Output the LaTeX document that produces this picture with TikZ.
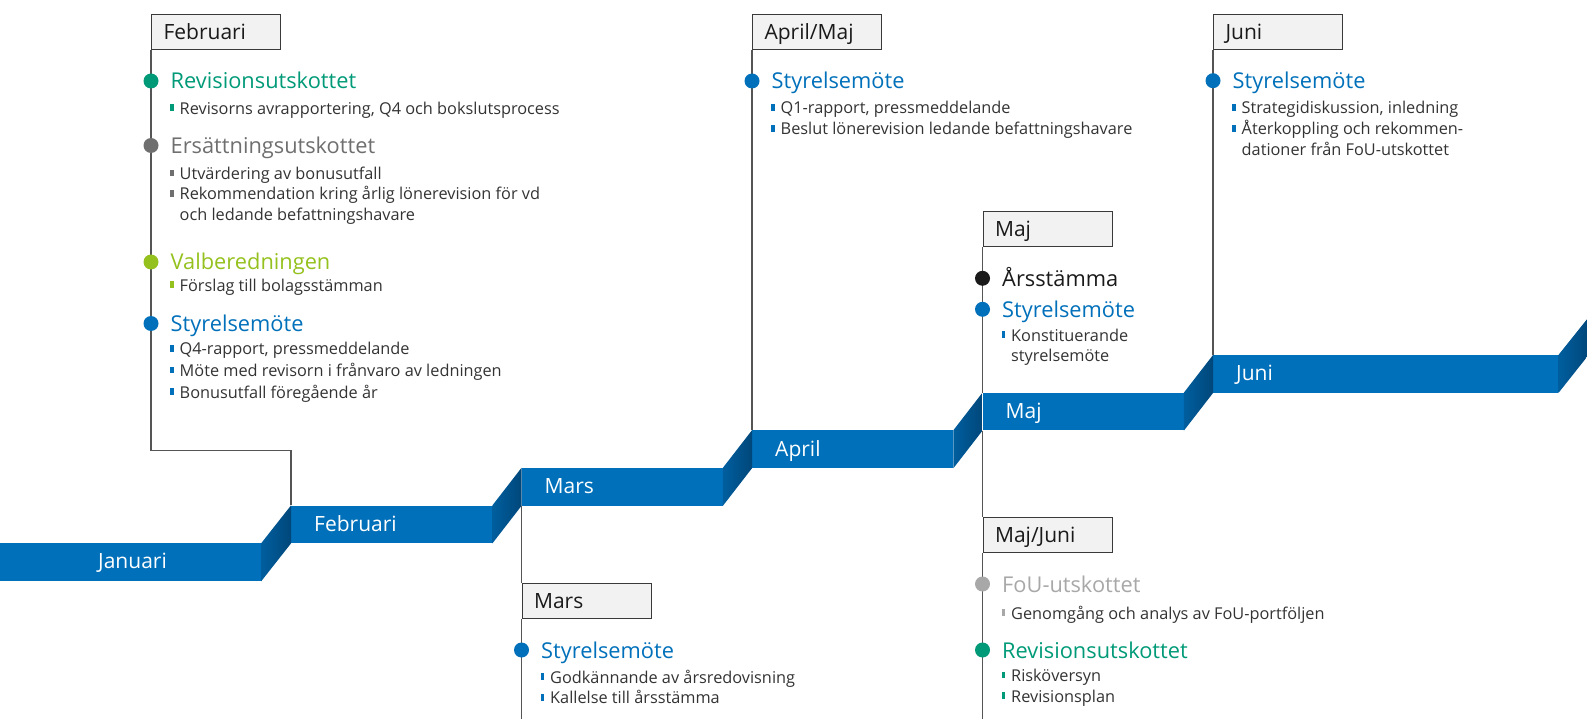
\documentclass[tikz,border=0pt]{standalone}
\usepackage{fontspec}
\setmainfont{Open Sans}
\definecolor{barblue}{HTML}{0070BA}
\definecolor{wedgeL}{HTML}{005E9E}
\definecolor{wedgeR}{HTML}{00477A}
\definecolor{revgreen}{HTML}{009A78}
\definecolor{ersgray}{HTML}{6F6F6F}
\definecolor{valgreen}{HTML}{95C11F}
\definecolor{fougray}{HTML}{A8A8A8}
\definecolor{bodytxt}{HTML}{333333}
\definecolor{linegray}{HTML}{555555}
\definecolor{boxfill}{HTML}{F2F2F2}
\definecolor{boxdraw}{HTML}{3A3A3A}
\definecolor{blacktxt}{HTML}{1A1A1A}
\newcommand\headfont{\fontsize{21.8}{26}\selectfont}
\newcommand\bodyfont{\fontsize{16.3}{20}\selectfont}
\newcommand\boxfont{\fontsize{21}{25}\selectfont}
\newcommand\barfont{\fontsize{21}{25}\selectfont}
\tikzset{
  conn/.style={draw=linegray, line width=1.1pt},
  mbox/.style={draw=boxdraw, fill=boxfill, line width=1.1pt, anchor=north west,
    minimum width=129pt, minimum height=35pt, text width=105pt, inner xsep=12pt,
    inner ysep=0pt, align=left, font=\boxfont, text=blacktxt, text height=15pt, text depth=0pt},
  bar/.style={fill=barblue, anchor=north west, minimum height=37.6pt, inner sep=0pt},
  barlabel/.style={anchor=base west, text=white, font=\barfont, inner sep=0pt},
  dot/.style={circle, minimum size=15pt, inner sep=0pt},
  head/.style={anchor=base west, inner sep=0pt, font=\headfont},
  body/.style={anchor=base west, inner sep=0pt, font=\bodyfont, text=bodytxt},
  wedge/.style={left color=wedgeL, right color=wedgeR},
}
% name, line x, y centre, colour, text
\newcommand\myhead[5]{%
  \node[dot, fill=#4] (#1dot) at (#2,#3) {};
  \node[head, text=#4] (#1) at (#2+19.5,#3+8) {#5};}
\newcommand\mybul[5]{%
  \fill[#4] (#2+19.3,#3-3.4) rectangle (#2+22.6,#3+3.4);
  \node[body] (#1) at (#2+28.5,#3+6.3) {#5};}
\newcommand\mycont[4]{%
  \node[body] (#1) at (#2+28.5,#3+6.3) {#4};}
\begin{document}
\begin{tikzpicture}[x=1pt, y=-1pt]
\useasboundingbox (0,0) rectangle (1587,719);
\clip (0,0) rectangle (1587,719);
% bars
\node[bar, minimum width=261pt] (barJan) at (0,543) {};
\node[bar, minimum width=201pt] (barFeb) at (291,505.4) {};
\node[bar, minimum width=201pt] (barMar) at (521.5,467.8) {};
\node[bar, minimum width=201pt] (barApr) at (752,430.2) {};
\node[bar, minimum width=201pt] (barMaj) at (982.5,392.6) {};
\node[bar, minimum width=345pt] (barJun) at (1213,355) {};
\coordinate (nextTop) at (1588.5,317.4);
\coordinate (nextBot) at (1588.5,355);
% wedges
\shade[wedge] (barJan.north east) -- (barFeb.north west) -- (barFeb.south west) -- (barJan.south east) -- cycle;
\shade[wedge] (barFeb.north east) -- (barMar.north west) -- (barMar.south west) -- (barFeb.south east) -- cycle;
\shade[wedge] (barMar.north east) -- (barApr.north west) -- (barApr.south west) -- (barMar.south east) -- cycle;
\shade[wedge] (barApr.north east) -- (barMaj.north west) -- (barMaj.south west) -- (barApr.south east) -- cycle;
\shade[wedge] (barMaj.north east) -- (barJun.north west) -- (barJun.south west) -- (barMaj.south east) -- cycle;
\shade[wedge] (barJun.north east) -- (nextTop) -- (nextBot) -- (barJun.south east) -- cycle;
% bar labels
\node[barlabel] (lJan) at (98,568.8) {Januari};
\node[barlabel] (lFeb) at (314,531.2) {Februari};
\node[barlabel] (lMar) at (544.5,493.6) {Mars};
\node[barlabel] (lApr) at (775,456) {April};
\node[barlabel] (lMaj) at (1005.5,418.4) {Maj};
\node[barlabel] (lJun) at (1236,380.8) {Juni};
% boxes
\node[mbox] (bFeb) at (151,14) {Februari};
\node[mbox] (bApr) at (752,14) {April/Maj};
\node[mbox] (bJun) at (1213,14) {Juni};
\node[mbox] (bMaj) at (982.5,211) {Maj};
\node[mbox] (bMajJ) at (982.5,517) {Maj/Juni};
\node[mbox] (bMar) at (521.5,583) {Mars};
% connectors
\coordinate (febTurn) at (151,450.7);
\coordinate (majEnd) at (982.5,720);
\coordinate (marEnd) at (521.5,720);
\draw[conn] (bFeb.south west) -- (febTurn) -| (barFeb.north west);
\draw[conn] (bApr.south west) -- (barApr.north west);
\draw[conn] (bJun.south west) -- (barJun.north west);
\draw[conn] (bMaj.south west) -- (barMaj.north west);
\draw[conn] (barMaj.south west) -- (bMajJ.north west);
\draw[conn] (bMajJ.south west) -- (majEnd);
\draw[conn] (barMar.south west) -- (bMar.north west);
\draw[conn] (bMar.south west) -- (marEnd);
% Februari column
\myhead{fRev}{151}{81}{revgreen}{Revisionsutskottet}
\mybul{fRev1}{151}{107.8}{revgreen}{Revisorns avrapportering, Q4 och bokslutsprocess}
\myhead{fErs}{151}{145.5}{ersgray}{Ersättningsutskottet}
\mybul{fErs1}{151}{173}{ersgray}{Utvärdering av bonusutfall}
\mybul{fErs2}{151}{193.5}{ersgray}{Rekommendation kring årlig lönerevision för vd}
\mycont{fErs2b}{151}{214.2}{och ledande befattningshavare}
\myhead{fVal}{151}{262}{valgreen}{Valberedningen}
\mybul{fVal1}{151}{284.8}{valgreen}{Förslag till bolagsstämman}
\myhead{fSty}{151}{323.5}{barblue}{Styrelsemöte}
\mybul{fSty1}{151}{348.3}{barblue}{Q4-rapport, pressmeddelande}
\mybul{fSty2}{151}{370}{barblue}{Möte med revisorn i frånvaro av ledningen}
\mybul{fSty3}{151}{391.7}{barblue}{Bonusutfall föregående år}
% April/Maj column
\myhead{aSty}{752}{81}{barblue}{Styrelsemöte}
\mybul{aSty1}{752}{107.5}{barblue}{Q1-rapport, pressmeddelande}
\mybul{aSty2}{752}{128.5}{barblue}{Beslut lönerevision ledande befattningshavare}
% Juni column
\myhead{jSty}{1213}{80.7}{barblue}{Styrelsemöte}
\mybul{jSty1}{1213}{107.5}{barblue}{Strategidiskussion, inledning}
\mybul{jSty2}{1213}{128.5}{barblue}{Återkoppling och rekommen-}
\mycont{jSty2b}{1213}{149.3}{dationer från FoU-utskottet}
% Maj column
\myhead{mArs}{982.5}{278.3}{blacktxt}{Årsstämma}
\myhead{mSty}{982.5}{309.3}{barblue}{Styrelsemöte}
\mybul{mSty1}{982.5}{334.7}{barblue}{Konstituerande}
\mycont{mSty1b}{982.5}{355.4}{styrelsemöte}
% Maj/Juni column
\myhead{uFou}{982.5}{584}{fougray}{FoU-utskottet}
\mybul{uFou1}{982.5}{612.7}{fougray}{Genomgång och analys av FoU-portföljen}
\myhead{uRev}{982.5}{650}{revgreen}{Revisionsutskottet}
\mybul{uRev1}{982.5}{675}{revgreen}{Risköversyn}
\mybul{uRev2}{982.5}{695.7}{revgreen}{Revisionsplan}
% Mars column
\myhead{rSty}{521.5}{650}{barblue}{Styrelsemöte}
\mybul{rSty1}{521.5}{676.7}{barblue}{Godkännande av årsredovisning}
\mybul{rSty2}{521.5}{697.3}{barblue}{Kallelse till årsstämma}
\end{tikzpicture}
\end{document}
